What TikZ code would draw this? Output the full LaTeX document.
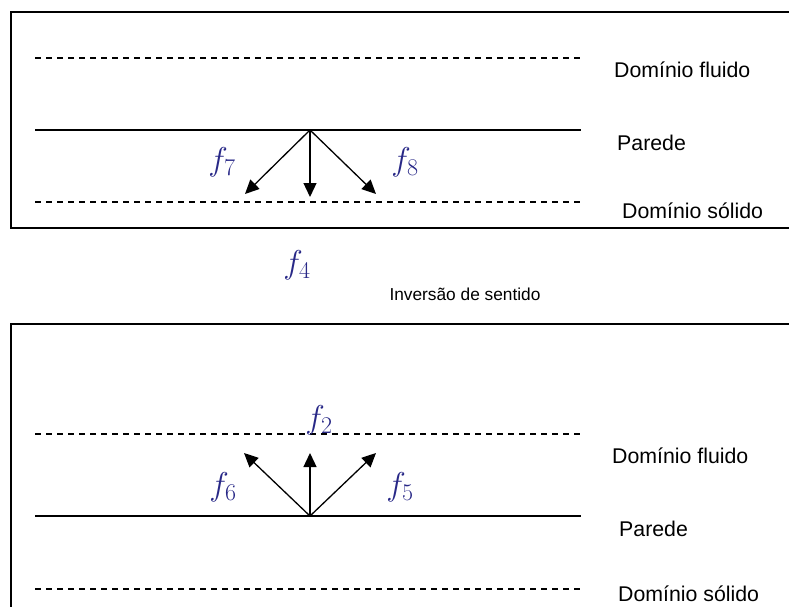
\documentclass[tikz,border=0pt]{standalone}
\usepackage{fix-cm}
\usepackage{fontspec}
\setmainfont{Liberation Sans}
\usepackage{tikz}
\usetikzlibrary{arrows.meta,positioning}
\definecolor{fblue}{RGB}{40,40,135}
\DeclareMathSizes{33}{33}{24}{18}

\begin{document}
\begin{tikzpicture}[x=1pt, y=-1pt]
  \tikzstyle{wall} = [line width=1.5pt]
  \tikzstyle{dom} = [line width=1.2pt, dash pattern=on 6pt off 5pt]
  \tikzstyle{frame} = [line width=2pt]
  \tikzstyle{vec} = [-{Triangle[length=14pt, width=13pt]}, line width=1.3pt]
  \tikzstyle{lbl} = [anchor=west, font=\fontsize{21.3}{23}\selectfont, inner sep=0pt]
  \tikzstyle{fvar} = [text=fblue, font=\fontsize{33}{35}\selectfont, inner sep=0pt]
  \useasboundingbox (0,0) rectangle (789,607);
  \clip (0,0) rectangle (789,607);
  % caixa de cima
  \draw[frame] (795,12) -- (11,12) -- (11,228) -- (795,228);
  \draw[dom] (35,58) -- (581,58);
  \draw[wall] (35,130) -- (581,130);
  \draw[dom] (35,202) -- (581,202);
  \node[lbl] (fluA) at (614,70) {Domínio fluido};
  \node[lbl] (parA) at (617,143) {Parede};
  \node[lbl] (solA) at (622,211) {Domínio sólido};
  \coordinate (oA) at (310,130);
  \coordinate (a7) at (245,194);
  \coordinate (a4) at (310,197);
  \coordinate (a8) at (376,194);
  \draw[vec] (oA) -- (a7);
  \draw[vec] (oA) -- (a4);
  \draw[vec] (oA) -- (a8);
  \node[fvar] (f7) at (222,162) {$f_7$};
  \node[fvar] (f8) at (405,162) {$f_8$};
  % entre as caixas
  \node[fvar] (f4) at (297,265) {$f_4$};
  \node[lbl, anchor=center, font=\fontsize{17.3}{19}\selectfont] (inv) at (465,294) {Inversão de sentido};
  % caixa de baixo
  \draw[frame] (11,615) -- (11,324) -- (795,324);
  \draw[dom] (35,434) -- (581,434);
  \draw[wall] (35,516) -- (581,516);
  \draw[dom] (35,589) -- (581,589);
  \node[lbl] (fluB) at (612,456) {Domínio fluido};
  \node[lbl] (parB) at (619,529) {Parede};
  \node[lbl] (solB) at (618,594) {Domínio sólido};
  \coordinate (oB) at (310,516);
  \coordinate (b6) at (244,453);
  \coordinate (b2) at (310,453);
  \coordinate (b5) at (376,453);
  \draw[vec] (oB) -- (b6);
  \draw[vec] (oB) -- (b2);
  \draw[vec] (oB) -- (b5);
  \node[fvar] (f6) at (223,487) {$f_6$};
  \node[fvar] (f5) at (400,487) {$f_5$};
  \node[fvar] (f2) at (319,420) {$f_2$};
\end{tikzpicture}
\end{document}
